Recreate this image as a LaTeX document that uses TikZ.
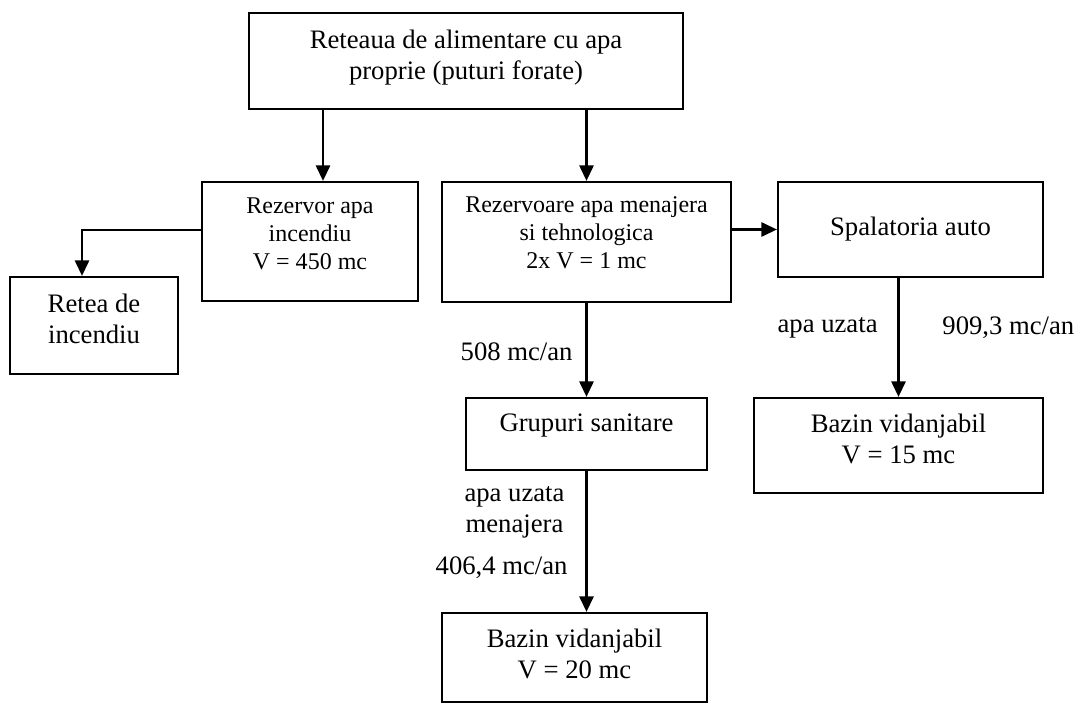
\documentclass[tikz,border=0pt]{standalone}
\usepackage{fontspec}
\setmainfont{Liberation Serif}
\usepackage{tikz}
\usetikzlibrary{calc,positioning,arrows.meta}
\tikzset{
    >={Triangle[length=7pt,width=6.4pt]},
    frame/.style={
        rectangle,
        draw=black, line width=1pt,
        inner sep=0pt
    },
    txt/.style={
        inner sep=0pt,
        align=center,
        font={\fontsize{12pt}{13.8pt}\selectfont}
    },
    txtsmall/.style={
        inner sep=0pt,
        align=center,
        font={\fontsize{10.8pt}{12.6pt}\selectfont}
    },
    flow/.style={draw, line width=1pt, ->},
}

\begin{document}
\begin{tikzpicture}[x=0.45pt,y=-0.45pt]
\useasboundingbox (0,0) rectangle (1074,704);
% casete
\node[frame, minimum width=195.3pt, minimum height=43.2pt] (quelle) at (466,61) {};
\node[frame, minimum width=97.2pt, minimum height=53.55pt] (rezinc) at (310,241.5) {};
\node[frame, minimum width=75.6pt, minimum height=43.65pt] (retea) at (94,325.5) {};
\node[frame, minimum width=130.05pt, minimum height=54pt] (rezmen) at (586.5,242) {};
\node[frame, minimum width=119.25pt, minimum height=42.75pt] (spal) at (910.5,229.5) {};
\node[frame, minimum width=108.45pt, minimum height=32.4pt] (grup) at (586.5,434) {};
\node[frame, minimum width=130.05pt, minimum height=42.75pt] (bazin15) at (898.5,445.5) {};
\node[frame, minimum width=119.25pt, minimum height=40.05pt] (bazin20) at (574.5,657.5) {};
% texte
\node[txt, below=8pt of quelle.north] (quelle-t) {Reteaua de alimentare cu apa\\proprie (puturi forate)};
\node[txtsmall, below=7.2pt of rezinc.north] (rezinc-t) {Rezervor apa\\incendiu\\V = 450 mc};
\node[txt, below=8pt of retea.north] (retea-t) {Retea de\\incendiu};
\node[txtsmall, below=7pt of rezmen.north] (rezmen-t) {Rezervoare apa menajera\\si tehnologica\\2x V = 1 mc};
\node[txt] (spal-t) at (spal) {Spalatoria auto};
\node[txt, below=7.5pt of grup.north] (grup-t) {Grupuri sanitare};
\node[txt, below=7.5pt of bazin15.north] (bazin15-t) {Bazin vidanjabil\\V = 15 mc};
\node[txt, below=7.5pt of bazin20.north] (bazin20-t) {Bazin vidanjabil\\V = 20 mc};
% debite
\node[txt, anchor=east] (l508) at (573,352) {508 mc/an};
\node[txt, anchor=east] (luzata) at (878,328) {apa uzata};
\node[txt, anchor=west] (l909) at (942,328) {909,3 mc/an};
\node[txt] (luzmen) at (514.5,512) {apa uzata\\menajera};
\node[txt, anchor=east] (l406) at (568,568) {406,4 mc/an};
% legaturi
\coordinate (zulauf) at (323,109);
\coordinate (knick) at (82,230);
\draw[flow] (zulauf) -- (zulauf |- rezinc.north);
\draw[flow] (quelle.south -| rezmen) -- (rezmen.north);
\draw[flow] (rezinc.west |- knick) -- (knick) -- (knick |- retea.north);
\draw[flow] (rezmen.east |- spal) -- (spal.west);
\draw[flow] (rezmen.south) -- (grup.north);
\draw[flow] (spal.south -| bazin15) -- (bazin15.north);
\draw[flow] (grup.south) -- (grup.south |- bazin20.north);
\end{tikzpicture}
\end{document}
